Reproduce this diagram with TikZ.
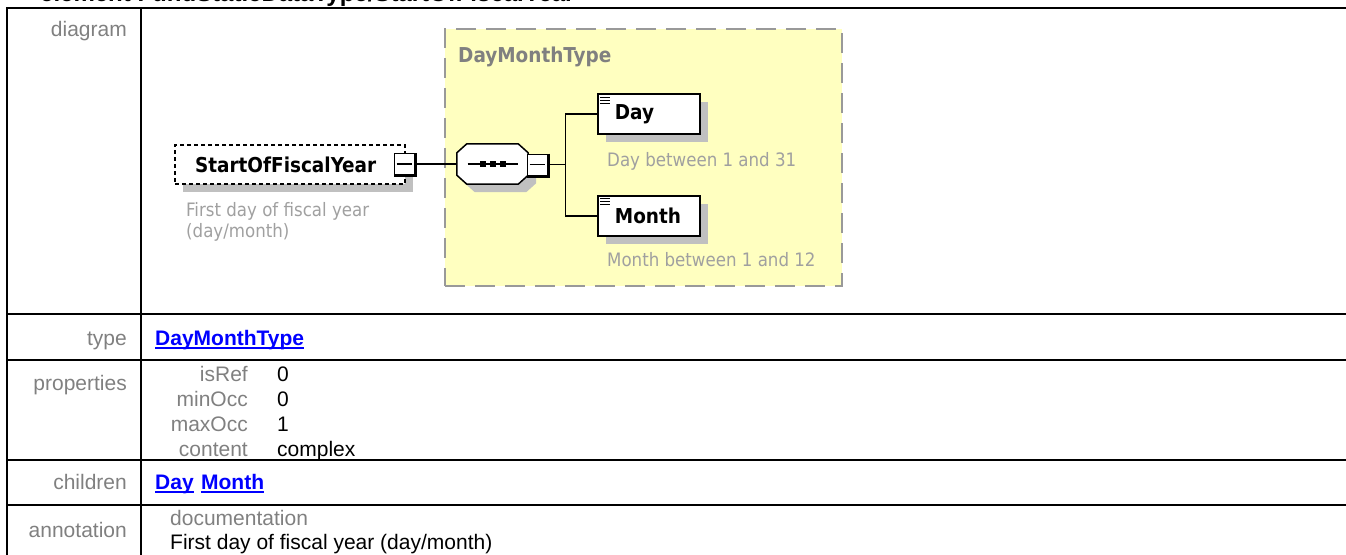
\documentclass[tikz,border=0pt]{standalone}
\usepackage{fontspec}
\setmainfont{Liberation Sans}
\newfontfamily\xsdfont{DejaVu Sans Condensed}[BoldFont={DejaVu Sans Condensed Bold}]
\usetikzlibrary{positioning, calc, shadows}

\definecolor{xsgray}{HTML}{808080}
\definecolor{xsdesc}{HTML}{A0A0A0}
\definecolor{xslink}{HTML}{0000FF}
\definecolor{xsyellow}{HTML}{FFFFC0}
\definecolor{xsshadow}{HTML}{C0C0C0}
\definecolor{xsdash}{HTML}{999999}

\begin{document}
\begin{tikzpicture}[x=1pt, y=-1pt,
  tbl/.style={line width=2pt},
  lbl/.style={anchor=base east, inner sep=0pt, text=xsgray, font=\fontsize{21}{25}\selectfont},
  val/.style={anchor=base west, inner sep=0pt, font=\fontsize{21}{25}\selectfont},
  lnk/.style={val, text=xslink, font=\fontsize{21}{25}\selectfont\bfseries},
  boxshadow/.style={copy shadow={shadow xshift=8pt, shadow yshift=-8pt, fill=xsshadow, draw=none}},
  elem/.style={draw, line width=1.8pt, fill=white, boxshadow, minimum height=40pt,
               text width=68pt, inner xsep=17pt, inner ysep=0pt, align=left,
               font=\xsdfont\fontsize{20.5}{24}\selectfont\bfseries},
  desc/.style={inner sep=0pt, text=xsdesc, align=left, font=\xsdfont\fontsize{18.5}{21}\selectfont},
  minusbox/.style={draw, line width=1pt, fill=white, minimum width=20pt, minimum height=21pt, inner sep=0pt},
  wire/.style={line width=1.5pt}
]
  \useasboundingbox (0,0) rectangle (1346,554);

  % Table frame
  \node[anchor=base west, inner sep=0pt, font=\fontsize{24}{28}\selectfont\bfseries] (title) at (40,1.5) {element FundStaticDataType/StartOfFiscalYear};
  \foreach \y in {8,314,360,460,505} \draw[tbl] (6,\y) -- (1350,\y);
  \draw[tbl] (7,7) -- (7,560);
  \draw[tbl] (141,7) -- (141,560);

  % Row labels
  \node[lbl] (ldiag) at (127,36) {diagram};
  \node[lbl] (ltype) at (127,345) {type};
  \node[lbl] (lprop) at (127,390) {properties};
  \node[lbl] (lchild) at (127,489) {children};
  \node[lbl] (lanno) at (127,537) {annotation};

  % Properties
  \foreach \k/\v/\y in {isRef/0/381, minOcc/0/406, maxOcc/1/431, content/complex/456} {
    \node[lbl] (p-\k) at (248,\y) {\k};
    \node[val] (v-\k) at (277,\y) {\v};
  }

  % Links
  \node[lnk] (lktype) at (155,345) {DayMonthType};
  \node[lnk] (lkday) at (155,489) {Day};
  \node[lnk, right=7pt of lkday.base east, anchor=base west] (lkmonth) {Month};
  \foreach \l in {lktype,lkday,lkmonth}
    \draw[xslink, line width=1.5pt] ([yshift=-3pt]\l.base west) -- ([yshift=-3pt]\l.base east);

  % Annotation
  \node[lbl, anchor=base west] (adoc) at (170,525) {documentation};
  \node[val] (atext) at (170,549) {First day of fiscal year (day/month)};

  % Type box
  \node[draw=xsdash, line width=2pt, dash pattern=on 20pt off 10pt, fill=xsyellow,
        minimum width=397pt, minimum height=257pt, anchor=north west] (tbox) at (444,28) {};
  \node[anchor=base west, inner sep=0pt, text=xsgray, font=\xsdfont\fontsize{20.5}{24}\selectfont\bfseries] (tname) at (458,62.5) {DayMonthType};

  % Root element
  \node[draw, dash pattern=on 4pt off 3pt, line width=1.5pt, fill=white, boxshadow,
        minimum height=39pt, text width=190pt, inner xsep=20pt, inner ysep=0pt, align=left,
        font=\xsdfont\fontsize{20.5}{24}\selectfont\bfseries] (root) at (290,164.5) {StartOfFiscalYear};
  \node[minusbox] (rm) at (404,164) {};
  \node[desc, anchor=north west] (rootd) at (186,202) {First day of fiscal year\\(day/month)};

  % Sequence
  \node[minimum width=71pt, minimum height=40pt, inner sep=0pt] (seq) at (492.5,164) {};
  \draw[line width=1.5pt, fill=white, boxshadow]
    ($(seq.north west)+(10,0)$) -- ($(seq.north east)+(-10,0)$) -- ($(seq.north east)+(0,9)$)
    -- ($(seq.south east)+(0,-9)$) -- ($(seq.south east)+(-10,0)$) -- ($(seq.south west)+(10,0)$)
    -- ($(seq.south west)+(0,-9)$) -- ($(seq.north west)+(0,9)$) -- cycle;
  \draw[line width=1.5pt] ([xshift=-25pt]seq.center) -- ([xshift=25pt]seq.center);
  \foreach \d in {-10,0,10} \fill ([xshift=\d pt]seq.center) +(-3,-3) rectangle +(3,3);
  \node[minusbox] (sm) at (537,164.5) {};

  \foreach \m in {rm,sm} {
    \draw[line width=2.5pt] ([xshift=1pt]\m.north east) -- ([xshift=1pt,yshift=-1pt]\m.south east) -- ([yshift=-1pt]\m.south west);
    \draw[line width=1.5pt] ([xshift=3pt]\m.west) -- ([xshift=-3pt]\m.east);
  }

  % Children
  \node[elem, anchor=west] (day) at (597,114) {Day};
  \node[elem, below=60pt of day] (month) {Month};
  \foreach \e in {day,month}
    \foreach \k in {4,7,10}
      \draw[line width=1pt] ([xshift=3pt,yshift=-\k pt]\e.north west) -- ++(10,0);
  \node[desc, anchor=base west] (dayd) at (607,166) {Day between 1 and 31};
  \node[desc, anchor=base west] (monthd) at (607,266) {Month between 1 and 12};

  % Connectors
  \draw[wire] (rm.east) -- (seq.west);
  \coordinate (fork) at ($(sm.east)+(18,0)$);
  \draw[wire] (sm.east) -- (fork);
  \draw[wire] (fork) |- (day.west);
  \draw[wire] (fork) |- (month.west);
\end{tikzpicture}
\end{document}
